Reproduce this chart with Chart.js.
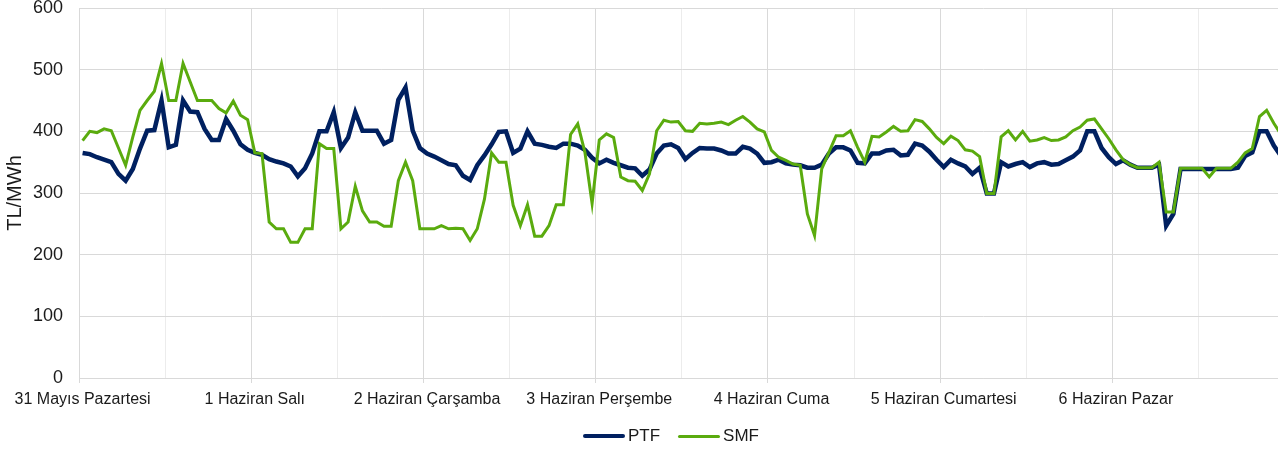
<!DOCTYPE html>
<html lang="tr">
<head>
<meta charset="utf-8">
<title>PTF / SMF</title>
<script src="https://cdn.jsdelivr.net/npm/chart.js@4"></script>
<style>
    html, body { margin: 0; padding: 0; overflow: hidden; background: #fff; }
    .wrap { position: relative; width: 1288px; height: 450px; }
    #legend {
        position: absolute; left: 583px; top: 426px;
        display: flex; align-items: center;
        font-family: 'Liberation Sans', Arial, sans-serif; font-size: 17px; color: #1a1a1a;
    }
    #legend .item { display: flex; align-items: center; margin-right: 18px; }
    #legend .line { display: inline-block; width: 42px; margin-right: 3px; border-radius: 2px; }
</style>
</head>
<body>
<div class="wrap">
    <canvas id="priceChart"></canvas>
    <div id="legend"></div>
</div>
<script>
// Days shown on the x axis (one label per 24 hours)
const days = ['31 Mayıs Pazartesi', '1 Haziran Salı', '2 Haziran Çarşamba', '3 Haziran Perşembe',
    '4 Haziran Cuma', '5 Haziran Cumartesi', '6 Haziran Pazar'];
const hours = ['00', '01', '02', '03', '04', '05', '06', '07', '08', '09', '10', '11',
    '12', '13', '14', '15', '16', '17', '18', '19', '20', '21', '22', '23'];

// Hourly prices, TL/MWh
const ptf = [
    365, 363, 358, 354, 350, 331, 320, 339, 372, 401, 402, 450, 374, 378, 450, 432, 431, 404, 386, 386, 420, 401, 379, 370,
    365, 362, 355, 351, 348, 343, 327, 340, 364, 400, 400, 431, 373, 390, 431, 401, 401, 401, 380, 386, 451, 471, 401, 373,
    364, 359, 353, 347, 345, 328, 321, 345, 361, 379, 399, 400, 365, 372, 400, 380, 378, 375, 373, 380, 380, 377, 370, 357,
    348, 354, 349, 345, 341, 340, 328, 338, 364, 377, 379, 373, 355, 365, 373, 372, 372, 369, 364, 364, 375, 372, 364, 349,
    350, 354, 348, 346, 345, 341, 341, 346, 364, 374, 374, 369, 349, 348, 364, 364, 369, 370, 361, 362, 380, 377, 367, 354,
    342, 354, 348, 343, 331, 341, 299, 299, 350, 343, 347, 350, 342, 348, 350, 346, 347, 353, 359, 369, 400, 400, 373, 358,
    347, 353, 346, 341, 341, 341, 346, 247, 266, 339, 339, 339, 339, 339, 339, 339, 339, 341, 360, 366, 400, 400, 377, 360
];
const smf = [
    385, 400, 398, 404, 401, 373, 345, 391, 434, 450, 465, 510, 450, 450, 510, 480, 450, 450, 450, 437, 430, 449, 426, 419,
    365, 364, 253, 242, 242, 220, 220, 242, 242, 380, 372, 372, 242, 253, 311, 271, 253, 253, 246, 246, 320, 350, 320, 242,
    242, 242, 247, 242, 243, 242, 223, 242, 290, 365, 350, 350, 280, 247, 281, 230, 230, 247, 281, 281, 395, 412, 366, 283,
    386, 396, 390, 326, 320, 319, 304, 331, 401, 418, 415, 416, 401, 400, 413, 412, 413, 415, 411, 418, 424, 415, 404, 399,
    369, 358, 353, 347, 345, 266, 231, 339, 366, 393, 393, 401, 374, 350, 392, 391, 399, 408, 400, 401, 419, 416, 404, 390,
    380, 392, 385, 370, 368, 359, 299, 299, 391, 401, 386, 400, 384, 386, 390, 385, 386, 391, 401, 407, 418, 420, 404, 388,
    370, 354, 346, 341, 341, 341, 350, 269, 269, 340, 340, 340, 340, 326, 340, 340, 340, 350, 365, 372, 424, 434, 413, 395
];

const yTicks = [0, 100, 200, 300, 400, 500, 600];

const ptfColor = '#002060';
const smfColor = '#5aab0e';
const gridColor = '#d9d9d9';
const fontFamily = "'Liberation Sans', Arial, sans-serif";

// one category per hour
const labels = days.flatMap(d => hours.map(h => d + ' ' + h + ':00'));

const ctx = document.getElementById('priceChart').getContext('2d');
const priceChart = new Chart(ctx, {
    type: 'line',
    data: {
        labels: labels,
        datasets: [{
            label: 'PTF',
            data: ptf,
            borderColor: ptfColor,
            backgroundColor: ptfColor,
            borderWidth: 4.5,
            pointRadius: 0,
            tension: 0,
            order: 1
        }, {
            label: 'SMF',
            data: smf,
            borderColor: smfColor,
            backgroundColor: smfColor,
            borderWidth: 3,
            pointRadius: 0,
            tension: 0,
            order: 0   // drawn on top
        }]
    },
    options: {
        responsive: true,
        maintainAspectRatio: false,
        animation: false,
        layout: { padding: { top: 8, right: 0, bottom: 0, left: 0 } },
        plugins: {
            legend: { display: false },
            tooltip: { enabled: false }
        },
        scales: {
            x: {
                type: 'category',
                offset: true,
                border: { color: gridColor, width: 1 },
                grid: {
                    offset: true,
                    drawTicks: true,
                    tickLength: 5,
                    // day boundaries darker, noon lines lighter
                    color: (c) => c.index % 24 === 0 ? gridColor : (c.index % 12 === 0 ? '#ececec' : 'rgba(0,0,0,0)'),
                    tickColor: (c) => c.index % 24 === 0 ? gridColor : 'rgba(0,0,0,0)'
                },
                ticks: {
                    autoSkip: false,
                    maxRotation: 0,
                    minRotation: 0,
                    padding: 7,
                    color: '#1a1a1a',
                    font: { family: fontFamily, size: 16 },
                    callback: (v, i) => i % 24 === 0 ? days[i / 24] : ''
                },
                afterFit: (scale) => { scale.height = 72; }
            },
            y: {
                min: 0,
                max: 600,
                border: { color: gridColor, width: 1 },
                grid: { color: gridColor, drawTicks: false },
                afterBuildTicks: (scale) => { scale.ticks = yTicks.map(v => ({ value: v })); },
                ticks: {
                    padding: 16,
                    color: '#1a1a1a',
                    font: { family: fontFamily, size: 18 }
                },
                title: {
                    display: true,
                    text: 'TL/MWh',
                    color: '#1a1a1a',
                    font: { family: fontFamily, size: 20 },
                    padding: { top: 3, bottom: 0 }
                },
                afterFit: (scale) => { scale.width = 79; scale.paddingTop = 0; }
            }
        }
    }
});

// Legend drawn as html so it can sit where the original one sits
const legend = document.getElementById('legend');
priceChart.data.datasets.forEach((ds) => {
    const item = document.createElement('span');
    item.className = 'item';
    const line = document.createElement('span');
    line.className = 'line';
    line.style.height = (ds.borderWidth >= 4 ? 4 : 3) + 'px';
    line.style.background = ds.borderColor;
    const text = document.createElement('span');
    text.textContent = ds.label;
    item.appendChild(line);
    item.appendChild(text);
    legend.appendChild(item);
});
</script>
</body>
</html>
